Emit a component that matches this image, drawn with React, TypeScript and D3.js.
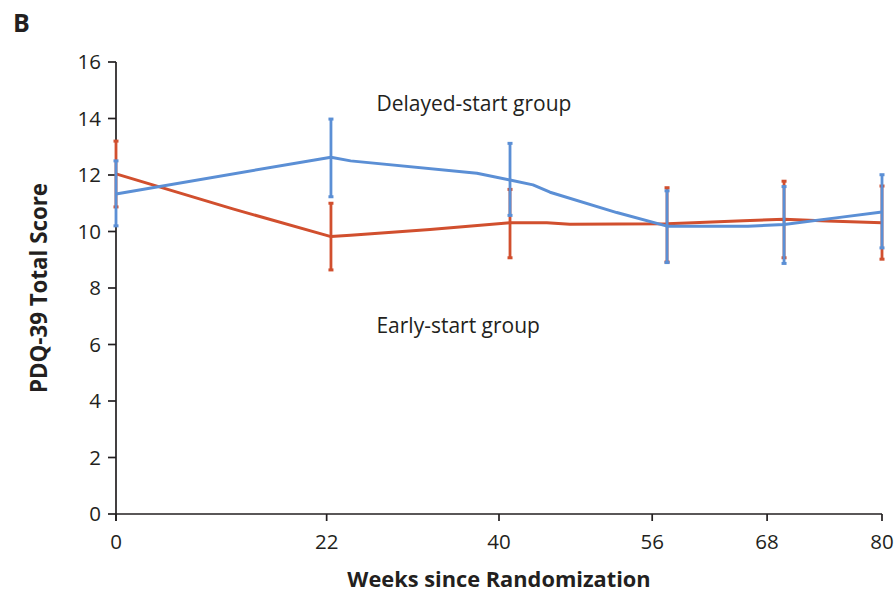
import React from "react";
import * as d3 from "d3";

const xTicks = [0, 22, 40, 56, 68, 80];
const yTicks = [0, 2, 4, 6, 8, 10, 12, 14, 16];

const visitWeeks = [0, 22.45, 41.15, 57.55, 69.77, 80];
const earlyLow = [10.87, 8.64, 9.07, 8.92, 9.07, 9.02];
const earlyHigh = [13.2, 11.0, 11.49, 11.55, 11.78, 11.61];
const delayedLow = [10.2, 11.23, 10.57, 8.9, 8.87, 9.42];
const delayedHigh = [12.5, 13.98, 13.12, 11.44, 11.59, 12.01];

const earlyLine: [number, number][] = [
  [0, 12.04], [12.2, 10.8], [22.45, 9.82], [24.5, 9.87], [32.8, 10.07],
  [41.15, 10.31], [45, 10.31], [47.4, 10.26], [57.55, 10.27], [60.3, 10.31],
  [65.5, 10.38], [69.77, 10.43], [74.3, 10.37], [80, 10.31],
];
const delayedLine: [number, number][] = [
  [0, 11.33], [22.45, 12.63], [24.5, 12.5], [37.7, 12.06], [41.15, 11.82],
  [43.55, 11.65], [45.33, 11.39], [52.3, 10.67], [57.55, 10.19], [66, 10.19],
  [69.77, 10.25], [75.6, 10.5], [80, 10.69],
];

const RED = "#d14f2e";
const BLUE = "#5b8fd5";
const INK = "#231f20";
const FONT = "'Open Sans', 'Noto Sans', sans-serif";

export default function App() {
  const x = d3.scaleLinear().domain([0, 80]).range([116, 882]);
  const y = d3.scaleLinear().domain([0, 16]).range([514, 62]);
  const line = d3
    .line<[number, number]>()
    .x((d) => x(d[0]))
    .y((d) => y(d[1]));

  const errorBars = (low: number[], high: number[], color: string, key: string) =>
    visitWeeks.map((w, i) => (
      <g key={key + i} stroke={color} strokeWidth={2.8}>
        <line x1={x(w)} x2={x(w)} y1={y(low[i])} y2={y(high[i])} />
        <line x1={x(w) - 2.5} x2={x(w) + 2.5} y1={y(low[i])} y2={y(low[i])} strokeWidth={3} />
        <line x1={x(w) - 2.5} x2={x(w) + 2.5} y1={y(high[i])} y2={y(high[i])} strokeWidth={3} />
      </g>
    ));

  return (
    <svg
      width={896}
      height={595}
      style={{ position: "absolute", left: 0, top: 0, background: "#fff" }}
      fontFamily={FONT}
    >
      <rect width={896} height={595} fill="#fff" />
      <text x={13} y={32} fontSize={25} fontWeight="bold" fill={INK}>
        B
      </text>

      {/* axes */}
      <g stroke={INK} strokeWidth={1.7} fill="none">
        <line x1={x(0)} x2={x(0)} y1={y(16)} y2={y(0) + 7} />
        <line x1={x(0)} x2={x(80)} y1={y(0)} y2={y(0)} />
        {yTicks.map((t) => (
          <line key={"yt" + t} x1={x(0) - 8} x2={x(0)} y1={y(t)} y2={y(t)} />
        ))}
        {xTicks.map((t) => (
          <line key={"xt" + t} x1={x(t)} x2={x(t)} y1={y(0)} y2={y(0) + 7} />
        ))}
      </g>
      {yTicks.map((t) => (
        <text
          key={"yl" + t}
          x={x(0) - 15}
          y={y(t)}
          dy="0.36em"
          textAnchor="end"
          fontSize={20.5}
          fill={INK}
        >
          {t}
        </text>
      ))}
      {xTicks.map((t) => (
        <text
          key={"xl" + t}
          x={x(t)}
          y={y(0) + 35}
          textAnchor="middle"
          fontSize={20.5}
          fill={INK}
        >
          {t}
        </text>
      ))}

      <text
        x={499}
        y={587}
        textAnchor="middle"
        fontSize={21.8}
        fontWeight="bold"
        fill={INK}
      >
        Weeks since Randomization
      </text>
      <text
        transform={`translate(47, ${y(8)}) rotate(-90)`}
        textAnchor="middle"
        fontSize={22.3}
        fontWeight="bold"
        fill={INK}
      >
        PDQ-39 Total Score
      </text>

      {/* series */}
      <path d={line(earlyLine) || ""} fill="none" stroke={RED} strokeWidth={3} strokeLinejoin="round" />
      {errorBars(earlyLow, earlyHigh, RED, "e")}
      <path d={line(delayedLine) || ""} fill="none" stroke={BLUE} strokeWidth={3} strokeLinejoin="round" />
      {errorBars(delayedLow, delayedHigh, BLUE, "d")}

      <text x={x(27.2)} y={111} fontSize={21} fill={INK}>
        Delayed-start group
      </text>
      <text x={x(27.2)} y={333} fontSize={21} fill={INK}>
        Early-start group
      </text>
    </svg>
  );
}
